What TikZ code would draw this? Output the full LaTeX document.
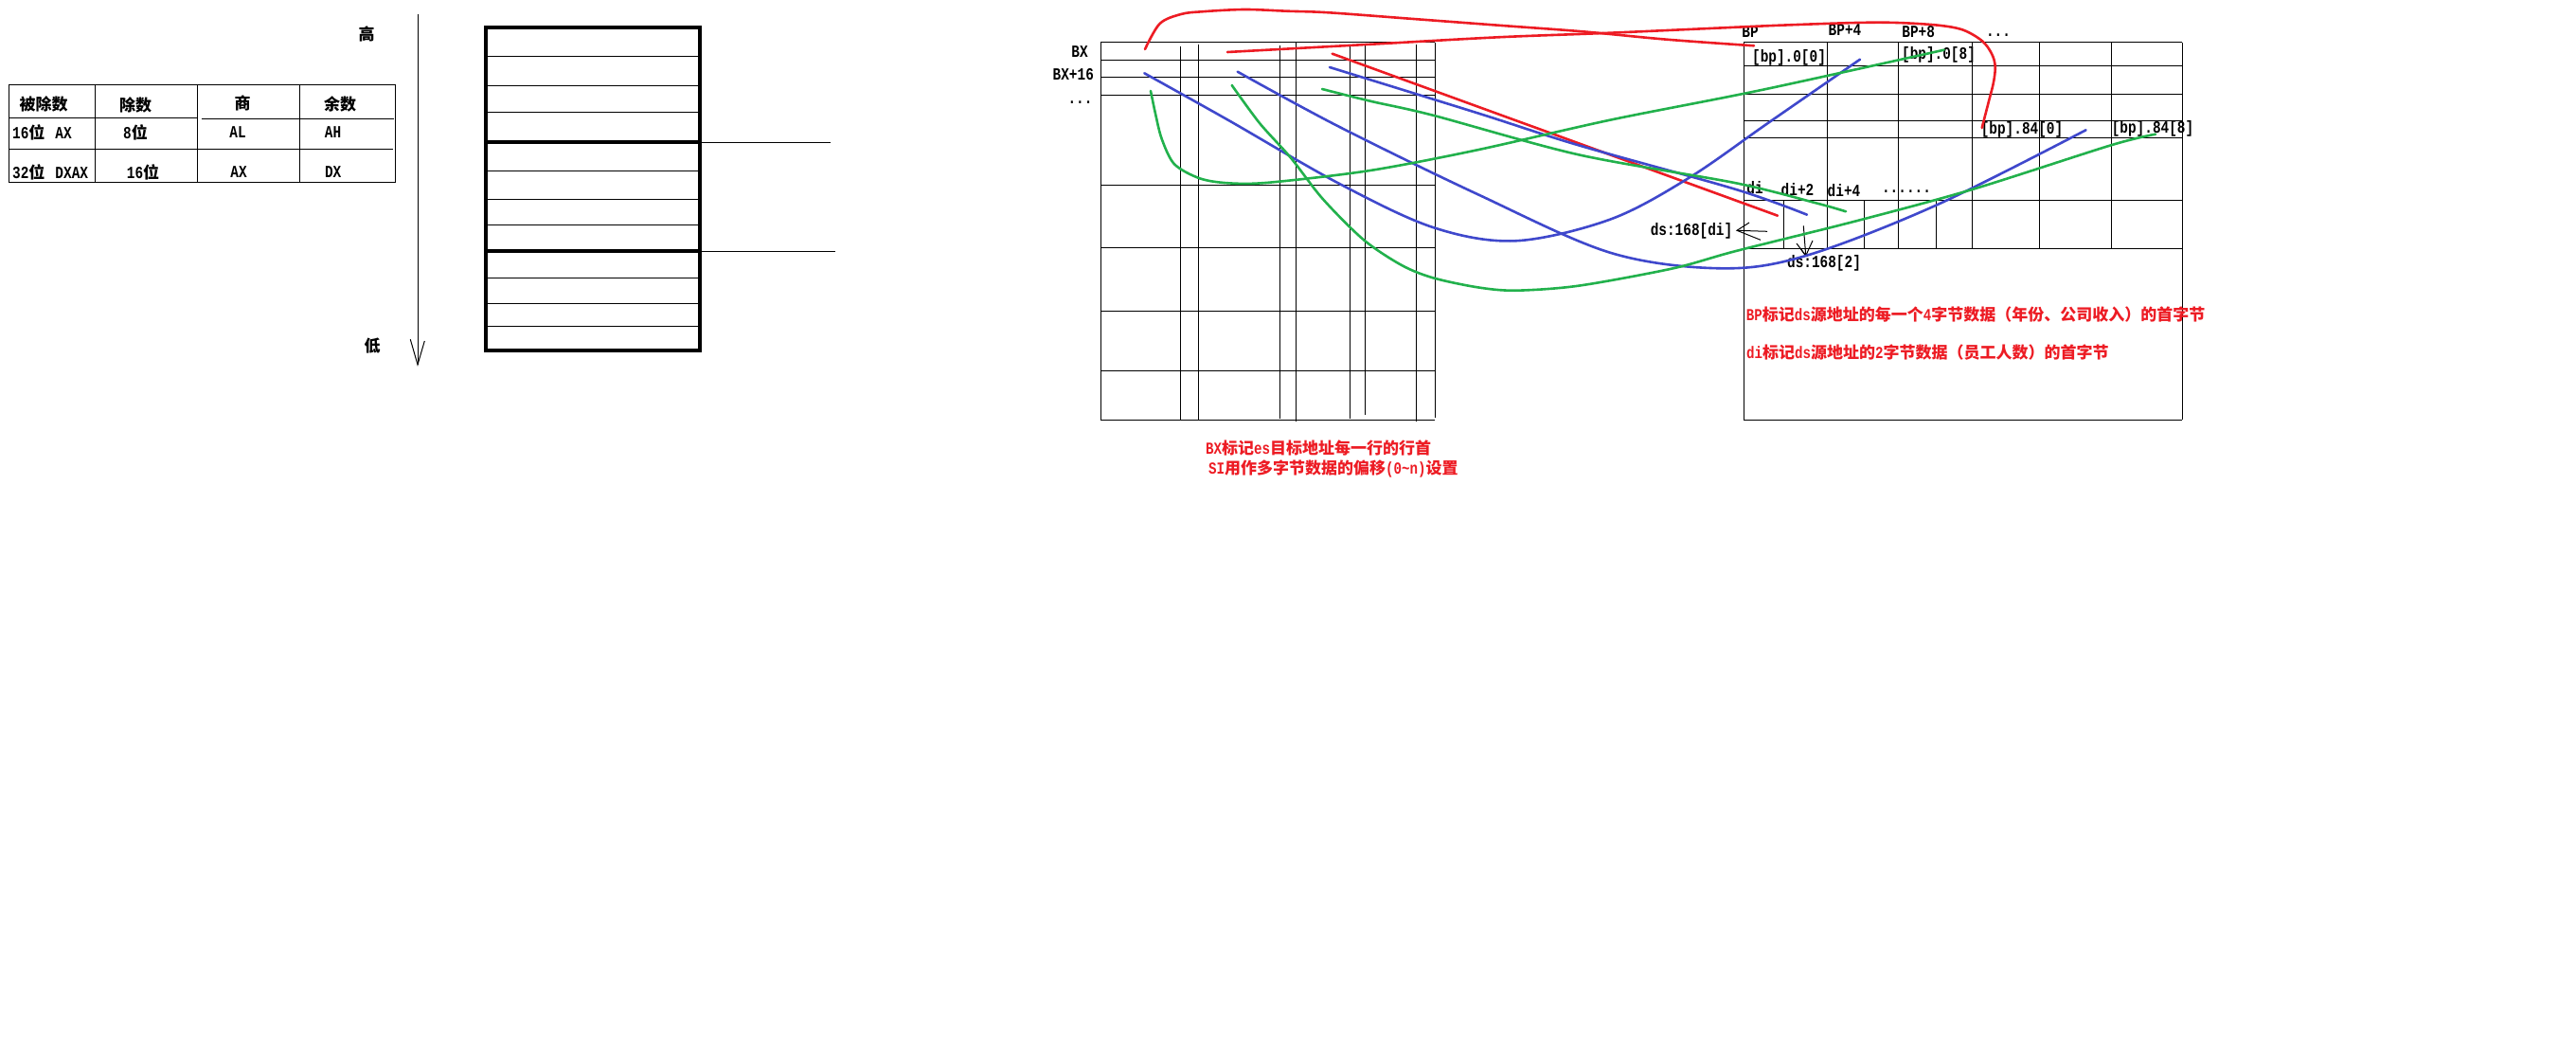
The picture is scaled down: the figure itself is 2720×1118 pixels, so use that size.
\documentclass[tikz,border=0pt]{standalone}
\usepackage{fontspec}
\setmainfont{Liberation Serif}
\newfontfamily\cjk{Noto Sans CJK SC}
\newfontfamily\mono[FakeStretch=0.8]{Liberation Mono}
\newcommand\lat[1]{{\mono\bfseries\fontsize{17.7}{20}\selectfont #1}}
\newcommand\zhc[1]{{\cjk\bfseries\fontsize{17}{20}\selectfont #1}}
\definecolor{pred}{RGB}{237,28,36}
\definecolor{pblue}{RGB}{63,72,204}
\definecolor{pgreen}{RGB}{34,177,76}
\begin{document}
\begin{tikzpicture}[x=1pt,y=-1pt,
  gridline/.style={line width=1pt, black},
  heavy/.style={line width=4pt, black},
  lbl/.style={inner sep=0pt, font=\mono\bfseries\fontsize{18}{20}\selectfont},
  zh/.style={inner sep=0pt, font=\cjk\bfseries\fontsize{17}{20}\selectfont},
  rtxt/.style={inner sep=0pt, anchor=west, text=pred, font=\cjk\bfseries\fontsize{17}{20}\selectfont},
  stroke/.style={line width=2.6pt, line cap=round, line join=round},
  hand/.style={line width=1pt, black}
]
\useasboundingbox (0,0) rectangle (2720,1118);
\fill[white] (0,0) rectangle (2720,1118);

% ---------- table ----------
\draw[gridline] (9.3,89.3) rectangle (417.3,192.7);
\foreach \x in {100.7,208.7,316.7} \draw[gridline] (\x,89.3) -- (\x,192.7);
\draw[gridline] (9.3,124.3) -- (208.7,124.3);
\draw[gridline] (212.7,125.3) -- (416,125.3);
\draw[gridline] (9.3,158) -- (415,158);
\node[zh] (h1) at (46,110) {被除数};
\node[zh] (h2) at (143,111) {除数};
\node[zh] (h3) at (256,109) {商};
\node[zh] (h4) at (359,110) {余数};
\node[lbl,anchor=west] (r1a) at (13,140) {16\zhc{位}\hspace{11pt}AX};
\node[lbl] (r1b) at (143,140) {8\zhc{位}};
\node[lbl] (r1c) at (251,140) {AL};
\node[lbl] (r1d) at (351.5,140) {AH};
\node[lbl,anchor=west] (r2a) at (13,181.7) {32\zhc{位}\hspace{11pt}DXAX};
\node[lbl] (r2b) at (151,181.7) {16\zhc{位}};
\node[lbl] (r2c) at (252,181.7) {AX};
\node[lbl] (r2d) at (351.7,181.7) {DX};

% ---------- high/low arrow ----------
\node[zh] (hi) at (387,36) {高};
\node[zh] (lo) at (393,365) {低};
\coordinate (atop) at (441,15);
\coordinate (abot) at (441,385);
\draw[gridline] (atop) -- (abot);
\draw[gridline] (433.3,358.3) -- (abot) -- (448.3,360);

% ---------- memory box ----------
\foreach \y in {59.3,91,119,180.3,210.3,237.3,293.3,320.3,344.3}
  \draw[gridline] (513.3,\y) -- (739.3,\y);
\draw[heavy] (513.3,150.3) -- (739.3,150.3);
\draw[heavy] (513.3,265.3) -- (739.3,265.3);
\draw[heavy] (513.3,29.3) rectangle (739.3,370);
\draw[gridline] (739.3,150.3) -- (876.7,150.3);
\draw[gridline] (739.3,265.3) -- (881.7,265.3);

% ---------- left grid (es destination) ----------
\foreach \y in {45,63.3,82,101,195.3,261.3,328.3,391.5,443.3}
  \draw[gridline] (1162.3,\y) -- (1515.3,\y);
\draw[gridline] (1162.3,45) -- (1162.3,443.3);
\draw[gridline] (1246.3,49) -- (1246.3,443.3);
\draw[gridline] (1265.3,46.7) -- (1265.3,443.3);
\draw[gridline] (1351.3,48.3) -- (1351.3,441.7);
\draw[gridline] (1368.3,45) -- (1368.3,445);
\draw[gridline] (1425.5,46.7) -- (1425.5,441.7);
\draw[gridline] (1441.3,46.7) -- (1441.3,437.7);
\draw[gridline] (1495.3,46.7) -- (1495.3,445);
\draw[gridline] (1515.3,45) -- (1515.3,440.7);
\node[lbl] (bx) at (1140,54.3) {BX};
\node[lbl] (bx16) at (1133.3,79) {BX+16};
\node[lbl,anchor=base] (bxdots) at (1140.5,110) {...};
\node[rtxt] (lt1) at (1273,473.3) {\lat{BX}标记\lat{es}目标地址每一行的行首};
\node[rtxt] (lt2) at (1276,495) {\lat{SI}用作多字节数据的偏移\lat{(0\textasciitilde n)}设置};

% ---------- right grid (ds source) ----------
\foreach \y in {45,69.3,100,127.3,145.3,211.3,262.3,443.3}
  \draw[gridline] (1841,\y) -- (2304.3,\y);
\draw[gridline] (1841,45) -- (1841,443.3);
\draw[gridline] (2304.3,45) -- (2304.3,443.3);
\foreach \x in {1929.3,2004,2082.5,2153.2,2229.3}
  \draw[gridline] (\x,45) -- (\x,262.3);
\foreach \x in {1883.6,1968.2,2044.3}
  \draw[gridline] (\x,211.3) -- (\x,262.3);
\node[lbl] (bp) at (1848,34) {BP};
\node[lbl] (bp4) at (1948,31.5) {BP+4};
\node[lbl] (bp8) at (2025.7,34) {BP+8};
\node[lbl,anchor=base] (bpdots) at (2110,38.5) {...};
\node[lbl] (b00) at (1889,60.7) {[bp].0[0]};
\node[lbl] (b08) at (2047,58.3) {[bp].0[8]};
\node[lbl] (b840) at (2135,136.7) {[bp].84[0]};
\node[lbl] (b848) at (2273,136) {[bp].84[8]};
\node[lbl] (di) at (1853,197.7) {di};
\node[lbl] (di2) at (1898,200.5) {di+2};
\node[lbl] (di4) at (1947,201) {di+4};
\node[lbl,anchor=base] (didots) at (2013,203.5) {......};
\node[lbl] (dsdi) at (1786,244.3) {ds:168[di]};
\node[lbl] (ds2) at (1926,278.3) {ds:168[2]};
\node[rtxt] (rt1) at (1843.6,332.3) {\lat{BP}标记\lat{ds}源地址的每一个\lat{4}字节数据（年份、公司收入）的首字节};
\node[rtxt] (rt2) at (1844,372.3) {\lat{di}标记\lat{ds}源地址的\lat{2}字节数据（员工人数）的首字节};

% hand-drawn small arrows
\coordinate (la) at (1834,243.3);
\draw[hand] (1866,244.3) -- (la);
\draw[hand] (1847,235) -- (la) -- (1859,253.3);
\coordinate (da) at (1906.7,270);
\draw[hand] (1904.3,238.3) -- (da);
\draw[hand] (1897,257) -- (da) -- (1914,254);
\draw[hand] (1901,262) -- (da);

% ---------- red strokes ----------
\draw[stroke,pred] plot[smooth,tension=0.55] coordinates {(1209,52) (1224.6,25) (1247,15) (1269,12.3) (1314,10) (1358.6,11.7) (1403,13.3) (1492.5,20) (1582,26.7) (1671,33.3) (1760,41.7) (1852,48.3)};
\draw[stroke,pred] plot[smooth,tension=0.55] coordinates {(1296,55) (1448,46.7) (1582,39.3) (1693,35) (1805,30) (1880,26.7) (1960,24) (2003,24) (2046.7,26.7) (2073,31.7) (2093,43.3) (2103,56.7) (2106.7,70) (2105,86.7) (2100,106.7) (2092.7,135)};
\coordinate (rcs) at (1406.7,56.7);
\coordinate (rce) at (1877,227.7);
\draw[stroke,pred] (rcs) -- (rce);

% ---------- blue strokes ----------
\draw[stroke,pblue] plot[smooth,tension=0.55] coordinates {(1208.3,77.3) (1296.7,126.7) (1413,193.3) (1513,240) (1600,254.3) (1700,231.7) (1783,188) (1866.7,130) (1964,62.7)};
\draw[stroke,pblue] plot[smooth,tension=0.55] coordinates {(1306.7,75.7) (1413,133.3) (1560,205) (1700,266.7) (1816.7,283.3) (1906.7,270) (2044.3,216.7) (2202.5,137.3)};
\draw[stroke,pblue] plot[smooth,tension=0.55] coordinates {(1404,71) (1560,119.3) (1666.7,153.3) (1833,200) (1908,226.7)};

% ---------- green strokes ----------
\draw[stroke,pgreen] plot[smooth,tension=0.5] coordinates {(1215,96) (1220,120) (1226.7,146.7) (1240,173.3) (1266.7,188.3) (1296.7,193.3) (1340,192.7) (1446.7,180) (1560,158.3) (1700,126.7) (1860,95) (2052.7,52.7)};
\draw[stroke,pgreen] plot[smooth,tension=0.5] coordinates {(1300.7,90) (1330,130) (1363,166.7) (1396.7,210) (1440,253.3) (1480,280) (1513,293.3) (1560,303.3) (1600,306.7) (1666.7,301.7) (1766.7,283.3) (1833,265) (1960,233.3) (2082.5,200) (2229,153.3) (2276,141.7)};
\draw[stroke,pgreen] plot[smooth,tension=0.5] coordinates {(1396,94) (1446.7,106.7) (1513,121.7) (1666.7,163.3) (1833,193.3) (1920,215) (1949,223.3)};
\end{tikzpicture}
\end{document}
